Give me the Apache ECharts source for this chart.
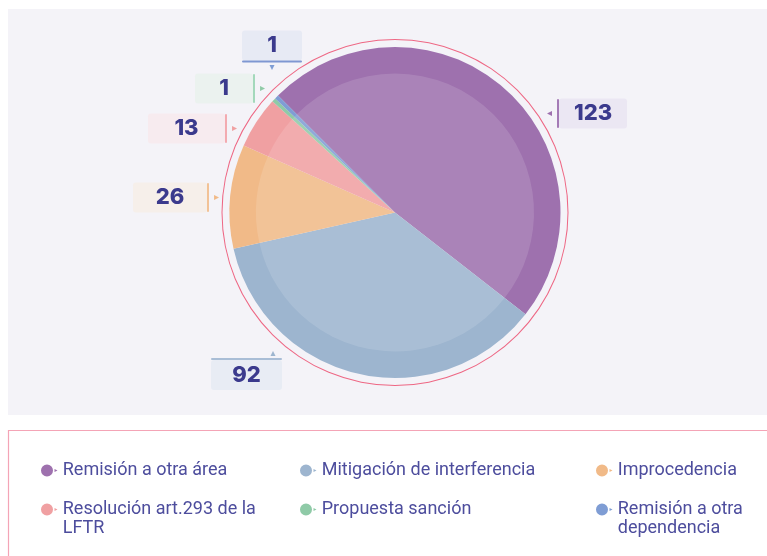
<!DOCTYPE html>
<html>
<head>
<meta charset="utf-8">
<script src="https://cdn.jsdelivr.net/npm/echarts@6/dist/echarts.min.js"></script>
<style>
html,body{margin:0;padding:0;background:#ffffff;}
#chart{width:767px;height:556px;}
</style>
</head>
<body>
<div id="chart"></div>
<script>
// ---- data ----
const categories = [
  'Remisión a otra área',
  'Mitigación de interferencia',
  'Improcedencia',
  'Resolución art.293 de la LFTR',
  'Propuesta sanción',
  'Remisión a otra dependencia'
];
const values = [123, 92, 26, 13, 1, 1];

// ---- styles ----
const sliceColors = ['#9e71ae', '#9db5cf', '#f1ba88', '#f0a0a2', '#8fcaa7', '#7f9dd4'];
const boxColors   = ['#ebe7f3', '#e8ecf4', '#f6efea', '#f7ebef', '#ebf2ef', '#e7eaf4'];
const bracketColors = ['#a47ab6', '#a9bdd6', '#f2c296', '#f3aab0', '#a3d8bb', '#7f97d2'];
// label layout: side of the bracket, box width, offset of label centre from pie centre
const labelSide  = ['left', 'top', 'right', 'right', 'right', 'bottom'];
const boxWidth   = [68, 71, 74, 77, 58, 60];
const labelOffset = [[192, -99], [-148.5, 156.5], [-219, -15], [-202.5, -84], [-165, -124], [-123, -161]];
// legend layout (grid of 3 columns x 2 rows): left, top, text width, two-line flag
const legendLeft  = [41, 300, 596, 41, 300, 596];
const legendTop   = [461, 461, 461, 500, 500, 500];
const legendWidth = [215, 240, 140, 215, 240, 140];
const legendTwoLine = [false, false, false, true, false, true];

const CX = 395, CY = 212.5, R = 165.5;

const rich = { g: { width: 5, height: 2, fontSize: 1, lineHeight: 2 } };
values.forEach(function (v, i) {
  rich['n' + i] = {
    width: boxWidth[i], height: 30, lineHeight: 30, align: 'center',
    backgroundColor: boxColors[i], borderRadius: 3,
    fontFamily: 'Inter', fontWeight: 800, fontSize: 22, color: '#3b3a8d'
  };
  rich['b' + i] = { width: 2, height: 29, lineHeight: 29, fontSize: 1, backgroundColor: bracketColors[i], borderRadius: 1 };
  rich['h' + i] = { width: boxWidth[i], height: 2, lineHeight: 2, fontSize: 1, backgroundColor: bracketColors[i], borderRadius: 1 };
  rich['t' + i] = { fontFamily: 'DejaVu Sans', fontSize: 10, lineHeight: 10, color: sliceColors[i] };
  rich['s' + i] = { width: 53, height: 2, lineHeight: 2, fontSize: 1 };
});

function labelText(p) {
  const i = p.dataIndex, v = p.value;
  switch (labelSide[i]) {
    case 'left':   return '{t' + i + '|◂}{g| }{b' + i + '| }{n' + i + '|' + v + '}';
    case 'right':  return '{n' + i + '|' + v + '}{b' + i + '| }{g| }{t' + i + '|▸}';
    case 'top':    return '{s' + i + '| }{t' + i + '|▴}\n{h' + i + '| }\n{n' + i + '|' + v + '}';
    default:       return '{n' + i + '|' + v + '}\n{h' + i + '| }\n{t' + i + '|▾}';
  }
}

const pieData = categories.map(function (c, i) {
  return { name: c, value: values[i], itemStyle: { color: sliceColors[i] } };
});
const overlayData = categories.map(function (c, i) {
  return { name: c, value: values[i] };
});

const iconOne = 'path://M6,0A6,6,0,1,1,5.99,0Z M13.5,4.4L16.5,6L13.5,7.6Z';
const iconTwo = iconOne.replace('path://', 'path://') + ' M0,31L0,31Z';
const legendText = { fontFamily: 'Roboto', fontSize: 18, lineHeight: 19, color: '#4d4d9d', overflow: 'break' };

const legends = categories.map(function (name, i) {
  const two = legendTwoLine[i];
  return {
    orient: 'vertical', left: legendLeft[i], top: legendTop[i], height: 200, padding: 0,
    itemWidth: 17, itemHeight: two ? 31 : 12, icon: two ? iconTwo : iconOne,
    selectedMode: false,
    textStyle: Object.assign({ width: legendWidth[i] }, legendText),
    data: [name]
  };
});

const chart = echarts.init(document.getElementById('chart'), null, { renderer: 'canvas' });
chart.setOption({
  animation: false,
  backgroundColor: '#ffffff',
  graphic: [
    { type: 'rect', z: -10, shape: { x: 8, y: 9, width: 760, height: 406 }, style: { fill: '#f4f3f8' } },
    { type: 'rect', z: -10, shape: { x: 8.5, y: 430.5, width: 780, height: 160 }, style: { fill: 'none', stroke: '#f4a4b6', lineWidth: 1.2 } }
  ],
  legend: legends,
  series: [
    {
      type: 'pie', silent: true, center: [CX, CY], radius: [R + 7, R + 8],
      label: { show: false }, labelLine: { show: false },
      itemStyle: { color: '#ee6784' }, data: [{ name: '_ring', value: 1 }],
      legendHoverLink: false
    },
    {
      type: 'pie', name: 'Casos', center: [CX, CY], radius: [0, R],
      startAngle: 135, clockwise: true, avoidLabelOverlap: false,
      itemStyle: { borderWidth: 0 },
      label: { show: true, position: 'outside', formatter: labelText, rich: rich },
      labelLine: { show: false },
      labelLayout: function (p) {
        const o = labelOffset[p.dataIndex];
        return { x: CX + o[0], y: CY + o[1], align: 'center', verticalAlign: 'middle' };
      },
      emphasis: { disabled: true },
      data: pieData
    },
    {
      type: 'pie', silent: true, center: [CX, CY], radius: [0, R - 26.5],
      startAngle: 135, clockwise: true,
      label: { show: false }, labelLine: { show: false },
      itemStyle: { color: 'rgba(255,255,255,0.13)', borderWidth: 0 },
      emphasis: { disabled: true },
      data: overlayData
    }
  ]
});
</script>
</body>
</html>
